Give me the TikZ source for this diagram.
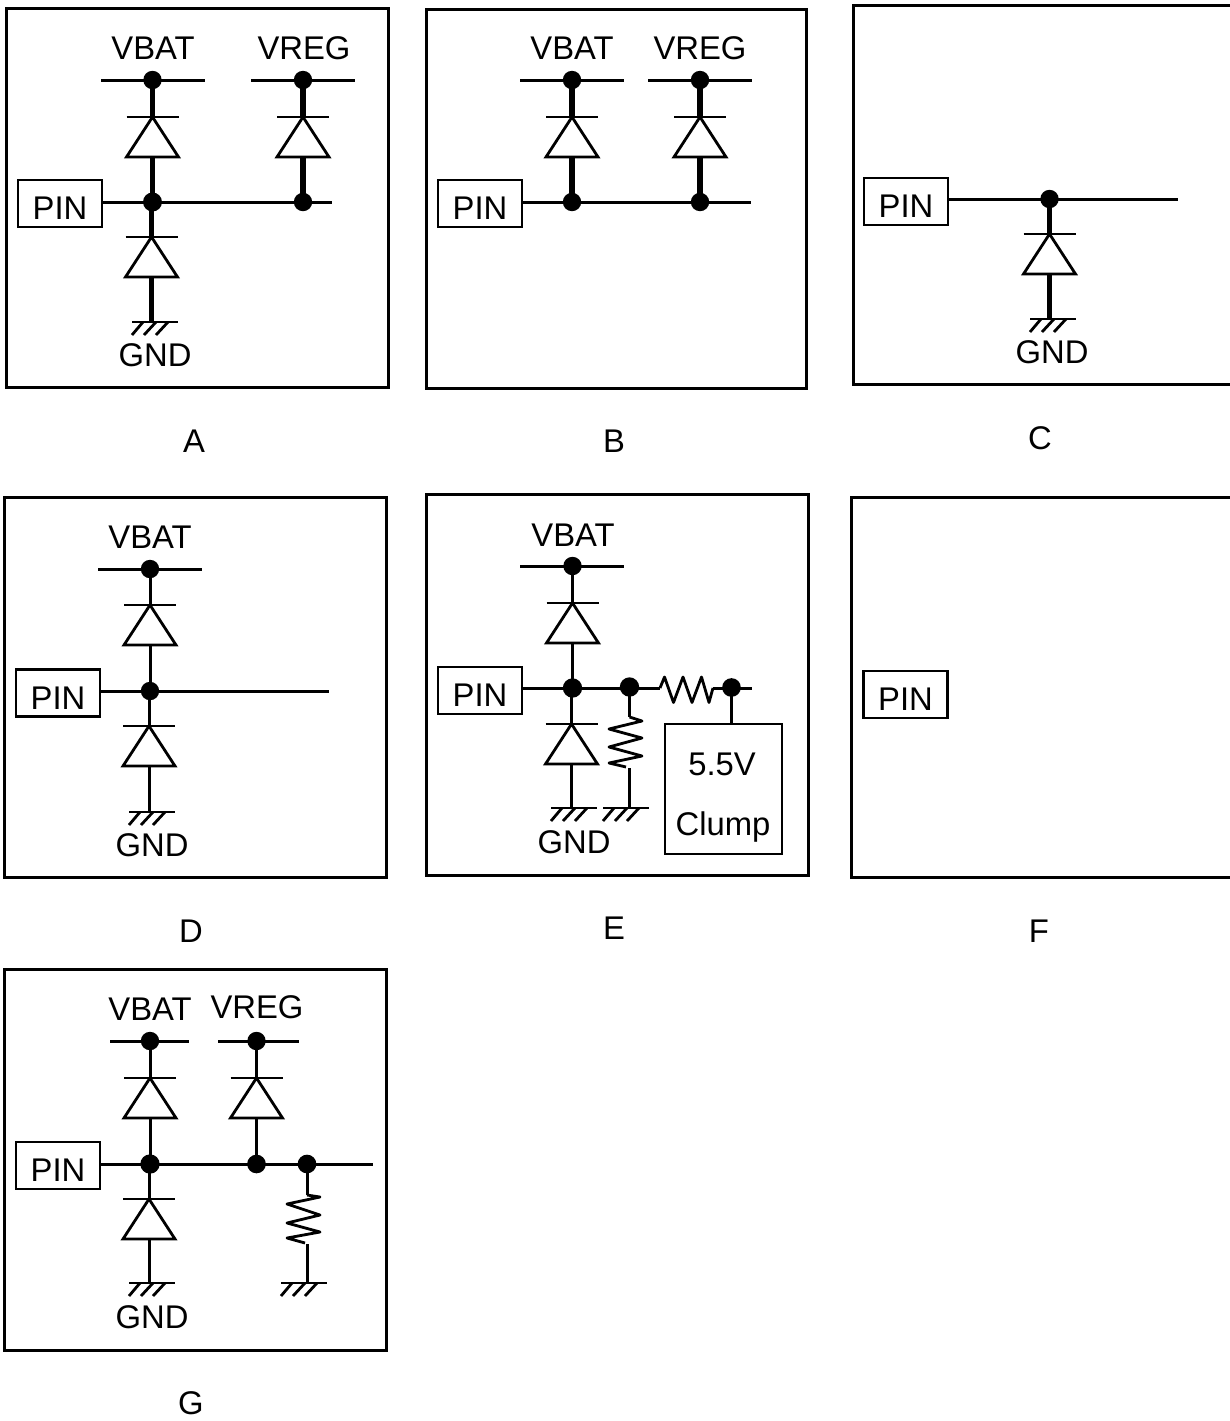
\documentclass[tikz,border=0pt]{standalone}
\usepackage{fontspec}
\setmainfont{Liberation Sans}
\tikzset{
  frame/.style={draw=black,line width=2.25pt},
  wire/.style={draw=black,line width=2.25pt},
  heavy/.style={draw=black,line width=4pt},
  sym/.style={draw=black,line width=2.1pt,line join=miter},
  dot/.style={circle,fill=black,inner sep=0pt,outer sep=0pt,minimum size=13.8pt},
  lbl/.style={font=\fontsize{24.6}{24.6}\selectfont,inner sep=0pt,text height=17.6pt,text depth=0pt,anchor=center},
  pinbox/.style={draw=black,line width=2.1pt,font=\fontsize{24.6}{24.6}\selectfont,inner sep=0pt,
    minimum width=63pt,minimum height=35.25pt,text height=24.4pt,text depth=0pt},
  clumpbox/.style={draw=black,line width=2.1pt,inner sep=0pt},
}
\newcommand\diode[3]{%
  \coordinate (#1k) at (#2,#3);
  \coordinate (#1a) at (#2,#3+40);
  \draw[sym] (#2-26,#3) -- (#2+26,#3);
  \draw[sym] (#2,#3) -- (#2-26,#3+40) -- (#2+26,#3+40) -- cycle;
}
\newcommand\ground[4]{%
  \coordinate (#1) at (#3,#4);
  \draw[sym] (#2,#4) -- (#2+46,#4);
  \draw[sym] (#2,#4+13) -- (#2+11,#4);
  \draw[sym] (#2+12,#4+13) -- (#2+24,#4);
  \draw[sym] (#2+24,#4+13) -- (#2+36,#4);
}
\begin{document}
\begin{tikzpicture}[x=0.75pt,y=-0.75pt]
\useasboundingbox (0,0) rectangle (1229,1421);

% ---------- A
\draw[frame] (6,8) rectangle (388,387);
\node[lbl] (aVbat) at (153,48) {VBAT};
\node[lbl] (aVreg) at (304,48) {VREG};
\node[pinbox] (aPin) at (60,203.5) {PIN};
\node[dot] (aD1) at (152.5,80) {};
\node[dot] (aD2) at (303,80) {};
\node[dot,minimum size=14.25pt] (aJ1) at (152.5,202) {};
\node[dot] (aJ2) at (303,202) {};
\coordinate (aR1l) at (101,80); \coordinate (aR1r) at (205,80);
\coordinate (aR2l) at (251,80); \coordinate (aR2r) at (355,80);
\coordinate (aEnd) at (332,202);
\diode{aU}{152.5}{117}
\diode{aV}{303}{117}
\diode{aL}{151.5}{237}
\ground{aG}{132}{151.5}{322}
\draw[wire] (aR1l) -- (aR1r);
\draw[wire] (aR2l) -- (aR2r);
\draw[wire] (aPin.east |- aJ1) -- (aEnd);
\draw[heavy] (aD1.center) -- (aUk);
\draw[heavy] (aUa) -- (aJ1.center);
\draw[heavy] (aD2.center) -- (aVk);
\draw[heavy] (aVa) -- (aJ2.center);
\draw[heavy] (aLk |- aJ1) -- (aLk);
\draw[heavy] (aLa) -- (aG);
\node[lbl] (aGnd) at (155,355) {GND};
\node[lbl] (aCap) at (194,441) {A};

% ---------- B
\draw[frame] (426,9) rectangle (806,388);
\node[lbl] (bVbat) at (572,48) {VBAT};
\node[lbl] (bVreg) at (700,48) {VREG};
\node[pinbox] (bPin) at (480,203.5) {PIN};
\node[dot] (bD1) at (572,80) {};
\node[dot] (bD2) at (700,80) {};
\node[dot] (bJ1) at (572,202) {};
\node[dot] (bJ2) at (700,202) {};
\coordinate (bR1l) at (520,80); \coordinate (bR1r) at (624,80);
\coordinate (bR2l) at (648,80); \coordinate (bR2r) at (752,80);
\coordinate (bEnd) at (751,202);
\diode{bU}{572}{117}
\diode{bV}{700}{117}
\draw[wire] (bR1l) -- (bR1r);
\draw[wire] (bR2l) -- (bR2r);
\draw[wire] (bPin.east |- bJ1) -- (bEnd);
\draw[heavy] (bD1.center) -- (bUk);
\draw[heavy] (bUa) -- (bJ1.center);
\draw[heavy] (bD2.center) -- (bVk);
\draw[heavy] (bVa) -- (bJ2.center);
\node[lbl] (bCap) at (614,441) {B};

% ---------- C
\draw[frame] (1236,5) -- (853,5) -- (853,384) -- (1236,384);
\node[pinbox] (cPin) at (906,201.5) {PIN};
\node[dot] (cJ1) at (1049.5,199) {};
\coordinate (cEnd) at (1178,199);
\diode{cL}{1049.5}{234}
\ground{cG}{1030}{1049.5}{319}
\draw[wire] (cPin.east |- cJ1) -- (cEnd);
\draw[heavy] (cJ1.center) -- (cLk);
\draw[heavy] (cLa) -- (cG);
\node[lbl] (cGnd) at (1052,352) {GND};
\node[lbl] (cCap) at (1040,438) {C};

% ---------- D
\draw[frame] (4,497) rectangle (386,877);
\node[lbl] (dVbat) at (150,537) {VBAT};
\node[pinbox] (dPin) at (58,693) {PIN};
\node[dot] (dD1) at (150,569) {};
\node[dot] (dJ1) at (150,691) {};
\coordinate (dRl) at (98,569); \coordinate (dRr) at (202,569);
\coordinate (dEnd) at (329,691);
\diode{dU}{150}{605}
\diode{dL}{149}{726}
\ground{dG}{129}{149}{812}
\draw[wire] (dRl) -- (dRr);
\draw[wire] (dPin.east |- dJ1) -- (dEnd);
\draw[wire] (dD1.center) -- (dUk);
\draw[wire] (dUa) -- (dJ1.center);
\draw[wire] (dLk |- dJ1) -- (dLk);
\draw[wire] (dLa) -- (dG);
\node[lbl] (dGnd) at (152,845) {GND};
\node[lbl] (dCap) at (191,931) {D};

% ---------- E
\draw[frame] (426,494) rectangle (808,875);
\node[lbl] (eVbat) at (573,535) {VBAT};
\node[pinbox] (ePin) at (480,690.5) {PIN};
\node[dot] (eD1) at (572.5,566) {};
\node[dot,minimum size=14.5pt] (eJ1) at (572.5,688) {};
\node[dot,minimum size=14.5pt] (eJ2) at (629.5,687) {};
\node[dot,minimum size=14pt] (eJ3) at (731.5,687.5) {};
\coordinate (eRl) at (520,566); \coordinate (eRr) at (624,566);
\coordinate (eEnd) at (752,688);
\coordinate (eHa) at (660,688); \coordinate (eHb) at (713,688);
\coordinate (eRa) at (629.5,717); \coordinate (eRb) at (629.5,768);
\diode{eU}{572.5}{603}
\diode{eL}{571.5}{724}
\ground{eG1}{551}{571.5}{808}
\ground{eG2}{603}{629.5}{808}
\node[clumpbox,minimum width=87.75pt,minimum height=97.5pt] (eBox) at (723.5,789) {};
\draw[wire] (eRl) -- (eRr);
\draw[wire] (ePin.east |- eJ1) -- (eHa);
\draw[wire] (eHb) -- (eEnd);
\draw[sym,line join=round] (eHa) -- (664.5,677) -- (673.5,702.5) -- (683,677) -- (692,702.5) -- (701.5,677) -- (709,702.5) -- (eHb);
\draw[sym,line join=round] (eRa) -- (642,721) -- (609,729) -- (642,738) -- (609,747) -- (642,756) -- (609,763) -- (626,767);
\draw[wire] (eD1.center) -- (eUk);
\draw[wire] (eUa) -- (eJ1.center);
\draw[wire] (eLk |- eJ1) -- (eLk);
\draw[wire] (eLa) -- (eG1);
\draw[wire] (eJ2.center) -- (eRa);
\draw[wire] (eRb) -- (eG2);
\draw[wire] (eJ3.center) -- (eJ3 |- eBox.north);
\node[lbl] (eGnd) at (574,842) {GND};
\node[lbl] (eV55) at (722,764) {5.5V};
\node[lbl] (eClump) at (723,824) {Clump};
\node[lbl] (eCap) at (614,928) {E};

% ---------- F
\draw[frame] (1236,497) -- (851,497) -- (851,877) -- (1236,877);
\node[pinbox] (fPin) at (905.5,694.5) {PIN};
\node[lbl] (fCap) at (1039,931) {F};

% ---------- G
\draw[frame] (4,969) rectangle (386,1350);
\node[lbl] (gVbat) at (150,1009) {VBAT};
\node[lbl] (gVreg) at (257,1007) {VREG};
\node[pinbox] (gPin) at (58,1165.5) {PIN};
\node[dot] (gD1) at (150,1041) {};
\node[dot] (gD2) at (256.5,1041) {};
\node[dot,minimum size=14.5pt] (gJ1) at (150,1164) {};
\node[dot,minimum size=14pt] (gJ2) at (256.5,1164) {};
\node[dot,minimum size=14pt] (gJ3) at (307,1164) {};
\coordinate (gR1l) at (110,1041); \coordinate (gR1r) at (189,1041);
\coordinate (gR2l) at (218,1041); \coordinate (gR2r) at (299,1041);
\coordinate (gEnd) at (373,1164);
\coordinate (gRa) at (307,1195); \coordinate (gRb) at (307,1244);
\diode{gU}{150}{1078}
\diode{gV}{256.5}{1078}
\diode{gL}{149}{1199}
\ground{gG1}{129}{149}{1283}
\ground{gG2}{281}{307}{1283}
\draw[wire] (gR1l) -- (gR1r);
\draw[wire] (gR2l) -- (gR2r);
\draw[wire] (gPin.east |- gJ1) -- (gEnd);
\draw[sym,line join=round] (gRa) -- (320,1197) -- (287,1204) -- (320,1215) -- (287,1223) -- (320,1232) -- (287,1238) -- (305,1243);
\draw[wire] (gD1.center) -- (gUk);
\draw[wire] (gUa) -- (gJ1.center);
\draw[wire] (gD2.center) -- (gVk);
\draw[wire] (gVa) -- (gJ2.center);
\draw[wire] (gLk |- gJ1) -- (gLk);
\draw[wire] (gLa) -- (gG1);
\draw[wire] (gJ3.center) -- (gRa);
\draw[wire] (gRb) -- (gG2);
\node[lbl] (gGnd) at (152,1317) {GND};
\node[lbl] (gCap) at (191,1403) {G};
\end{tikzpicture}
\end{document}
